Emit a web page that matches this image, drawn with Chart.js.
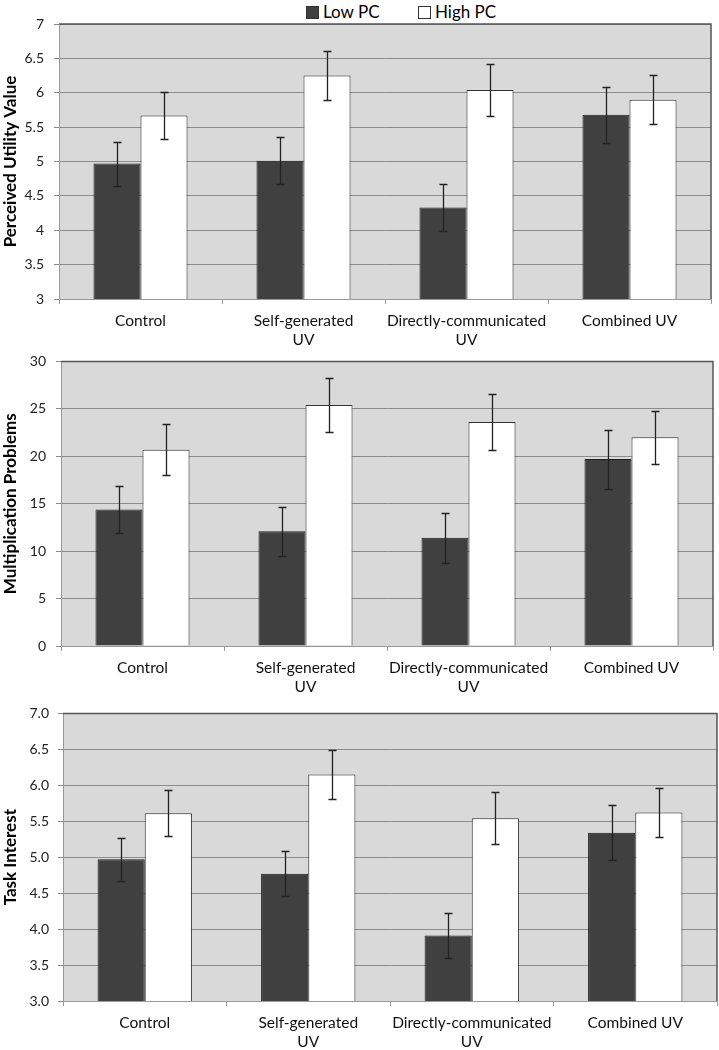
<!DOCTYPE html>
<html>
<head>
<meta charset="utf-8">
<script src="https://cdn.jsdelivr.net/npm/chart.js@4.4.1/dist/chart.umd.min.js"></script>
<style>
  html, body { margin: 0; padding: 0; background: #fff; }
  #page { position: relative; width: 719px; height: 1050px; font-family: Lato, sans-serif; }
  .panel { position: absolute; left: 0; width: 719px; }
  .legend { position: absolute; top: 0; left: 0; width: 719px; height: 22px; font-size: 17px; color: #000; }
  .legend span.item { position: absolute; top: 1px; white-space: nowrap; }
  .legend i { display: inline-block; width: 11px; height: 11px; border: 1px solid #333; margin-right: 4px; vertical-align: -1px; }
</style>
</head>
<body>
<div id="page">
  <div class="legend">
    <span class="item" style="left:306px"><i style="background:#404040"></i>Low PC</span>
    <span class="item" style="left:418px"><i style="background:#fff"></i>High PC</span>
  </div>
  <div class="panel" style="top:0;height:352px"><canvas id="c1"></canvas></div>
  <div class="panel" style="top:343px;height:362px"><canvas id="c2"></canvas></div>
  <div class="panel" style="top:696px;height:354px"><canvas id="c3"></canvas></div>
</div>
<script>
const categories = ['Control', ['Self-generated', 'UV'], ['Directly-communicated', 'UV'], 'Combined UV'];
const seriesNames = ['Low PC', 'High PC'];

// Perceived utility value
const utilityLow = [4.97, 5.01, 4.33, 5.68];
const utilityHigh = [5.67, 6.25, 6.04, 5.90];
const utilityLowErr = [0.32, 0.34, 0.34, 0.41];
const utilityHighErr = [0.34, 0.36, 0.38, 0.36];

// Multiplication problems
const problemsLow = [14.4, 12.1, 11.4, 19.7];
const problemsHigh = [20.7, 25.4, 23.6, 22.0];
const problemsLowErr = [2.5, 2.6, 2.6, 3.1];
const problemsHighErr = [2.65, 2.8, 2.95, 2.8];

// Task interest
const interestLow = [4.97, 4.77, 3.91, 5.34];
const interestHigh = [5.61, 6.15, 5.54, 5.62];
const interestLowErr = [0.30, 0.31, 0.31, 0.38];
const interestHighErr = [0.32, 0.34, 0.36, 0.34];

// plot background + top/right frame
const frame = {
  id: 'frame',
  beforeDraw(chart) {
    const { ctx, chartArea: a } = chart;
    ctx.save();
    ctx.fillStyle = '#d9d9d9';
    ctx.fillRect(a.left, a.top, a.right - a.left, a.bottom - a.top);
    ctx.restore();
  },
  afterDraw(chart) {
    const { ctx, chartArea: a } = chart;
    ctx.save();
    ctx.strokeStyle = '#555';
    ctx.lineWidth = 1.5;
    ctx.beginPath();
    ctx.moveTo(a.left, a.top);
    ctx.lineTo(a.right, a.top);
    ctx.lineTo(a.right, a.bottom);
    ctx.stroke();
    ctx.restore();
  }
};

// error bars from each dataset's errors array
const errorBars = {
  id: 'errorBars',
  afterDatasetsDraw(chart) {
    const { ctx } = chart;
    const y = chart.scales.y;
    ctx.save();
    ctx.strokeStyle = '#222';
    ctx.lineWidth = 1.3;
    chart.data.datasets.forEach((ds, i) => {
      chart.getDatasetMeta(i).data.forEach((bar, j) => {
        const v = ds.data[j], e = ds.errors[j];
        const top = Math.round(y.getPixelForValue(v + e)) + 0.5;
        const bot = Math.round(y.getPixelForValue(v - e)) + 0.5;
        const x = Math.round(bar.x) + 0.5;
        ctx.beginPath();
        ctx.moveTo(x, top); ctx.lineTo(x, bot);
        ctx.moveTo(x - 4, top); ctx.lineTo(x + 4, top);
        ctx.moveTo(x - 4, bot); ctx.lineTo(x + 4, bot);
        ctx.stroke();
      });
    });
    ctx.restore();
  }
};

function makePanel(id, title, low, high, lowErr, highErr, yMin, yMax, step, decimals, box) {
  return new Chart(document.getElementById(id), {
    type: 'bar',
    data: {
      labels: categories,
      datasets: [
        { label: seriesNames[0], data: low, errors: lowErr, backgroundColor: '#404040', borderColor: '#1e1e1e', borderWidth: 1 },
        { label: seriesNames[1], data: high, errors: highErr, backgroundColor: '#ffffff', borderColor: '#333', borderWidth: 1 }
      ]
    },
    options: {
      responsive: true,
      maintainAspectRatio: false,
      animation: false,
      categoryPercentage: 0.577,
      barPercentage: 1,
      layout: { padding: { top: box.top, right: box.right, left: 0, bottom: 0 } },
      plugins: { legend: { display: false }, tooltip: { enabled: false } },
      scales: {
        x: {
          afterFit: s => { s.height = box.xh; },
          grid: { offset: true, drawOnChartArea: false, drawTicks: true, tickLength: 5, color: '#999' },
          border: { color: '#999', width: 1 },
          ticks: { color: '#111', padding: 8, font: { family: 'Lato', size: 15.5 }, maxRotation: 0, autoSkip: false }
        },
        y: {
          min: yMin,
          max: yMax,
          afterFit: s => { s.width = box.left; },
          grid: { color: '#8c8c8c', lineWidth: 1, tickLength: 5 },
          border: { color: '#999', width: 1 },
          ticks: {
            stepSize: step,
            color: '#222',
            padding: box.tickPad,
            font: { family: 'Lato', size: 14 },
            callback: v => decimals ? Number(v).toFixed(decimals) : String(v)
          },
          title: {
            display: true,
            text: title,
            color: '#000',
            padding: { top: 0, bottom: 0 },
            font: { family: 'Lato', size: 17, weight: 'bold' }
          }
        }
      }
    },
    plugins: [frame, errorBars]
  });
}

makePanel('c1', 'Perceived Utility Value', utilityLow, utilityHigh, utilityLowErr, utilityHighErr, 3, 7, 0.5, 0,
  { top: 24, right: 8, left: 59, xh: 53, tickPad: 10 });
makePanel('c2', 'Multiplication Problems', problemsLow, problemsHigh, problemsLowErr, problemsHighErr, 0, 30, 5, 0,
  { top: 0, right: 6, left: 61, xh: 59, tickPad: 10 });
makePanel('c3', 'Task Interest', interestLow, interestHigh, interestLowErr, interestHighErr, 3, 7, 0.5, 1,
  { top: 0, right: 2, left: 63, xh: 49, tickPad: 9 });
</script>
</body>
</html>
